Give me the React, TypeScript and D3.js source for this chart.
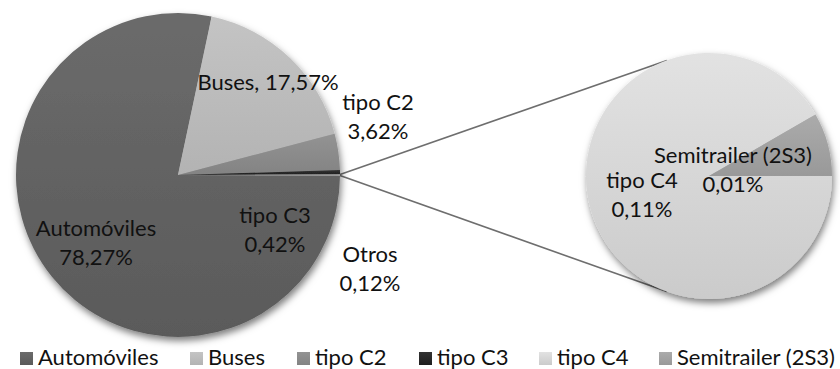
import React from "react";
import * as d3 from "d3";

// Main pie: share of each vehicle class (percent)
const mainNames = ["Automóviles", "Buses", "tipo C2", "tipo C3", "Otros"];
const mainValues = [78.27, 17.57, 3.62, 0.42, 0.12];

// Breakdown of "Otros" in the secondary pie (percent of total)
const subNames = ["tipo C4", "Semitrailer (2S3)"];
const subValues = [0.11, 0.01];

// Legend entries
const legendNames = ["Automóviles", "Buses", "tipo C2", "tipo C3", "tipo C4", "Semitrailer (2S3)"];

const W = 840;
const H = 369;
const FONT = "Lato, 'Open Sans', sans-serif";
const FS = 22;

const fills: Record<string, [string, string]> = {
  "Automóviles": ["#6b6b6b", "#5a5a5a"],
  "Buses": ["#c4c4c4", "#b3b3b3"],
  "tipo C2": ["#939393", "#838383"],
  "tipo C3": ["#333333", "#1e1e1e"],
  "Otros": ["#b4b4b4", "#a8a8a8"],
  "tipo C4": ["#e2e2e2", "#cbcbcb"],
  "Semitrailer (2S3)": ["#ababab", "#999999"],
};

const gradId = (n: string) => "g" + n.replace(/[^a-zA-Z0-9]/g, "");

const fmt = (v: number) => d3.format(".2f")(v).replace(".", ",") + "%";

// label anchors (center x, first baseline y)
const labelPos: Record<string, { x: number; y: number; inline?: boolean }> = {
  "Automóviles": { x: 96, y: 236 },
  "Buses": { x: 268, y: 90, inline: true },
  "tipo C2": { x: 378, y: 110 },
  "tipo C3": { x: 275, y: 223 },
  "Otros": { x: 370, y: 262 },
  "tipo C4": { x: 642, y: 188 },
  "Semitrailer (2S3)": { x: 733, y: 163 },
};
const lineGap = 29;

export default function App() {
  const main = { cx: 178, cy: 175, r: 162 };
  const sub = { cx: 709, cy: 176, r: 123 };

  const total = d3.sum(mainValues);
  const otrosHalf = (mainValues[mainValues.length - 1] / total) * Math.PI;
  const mainStart = Math.PI / 2 + otrosHalf;
  const mainArcs = d3
    .pie<number>()
    .sort(null)
    .startAngle(mainStart)
    .endAngle(mainStart + 2 * Math.PI)(mainValues);

  const subArcs = d3
    .pie<number>()
    .sort(null)
    .startAngle(Math.PI / 2)
    .endAngle(Math.PI / 2 + 2 * Math.PI)(subValues);

  const mainArc = d3.arc<d3.PieArcDatum<number>>().innerRadius(0).outerRadius(main.r);
  const subArc = d3.arc<d3.PieArcDatum<number>>().innerRadius(0).outerRadius(sub.r);

  // connector lines from the "Otros" slice edges to the secondary pie
  const otros = mainArcs[mainArcs.length - 1];
  const pt = (c: { cx: number; cy: number; r: number }, a: number) => [
    c.cx + c.r * Math.sin(a),
    c.cy - c.r * Math.cos(a),
  ];
  const tA = (20 * Math.PI) / 180;
  const p1 = pt(main, otros.startAngle);
  const p2 = pt(main, otros.endAngle);
  const q1 = pt(sub, -tA);
  const q2 = pt(sub, Math.PI + tA);

  const renderLabel = (name: string, value: number) => {
    const p = labelPos[name];
    if (!p) return null;
    if (p.inline)
      return (
        <text key={name} x={p.x} y={p.y} textAnchor="middle">
          {name + ", " + fmt(value)}
        </text>
      );
    return (
      <text key={name} textAnchor="middle">
        <tspan x={p.x} y={p.y}>{name}</tspan>
        <tspan x={p.x} y={p.y + lineGap}>{fmt(value)}</tspan>
      </text>
    );
  };

  const legendX = [38, 208, 315, 437, 557, 677];

  return (
    <svg
      width={W}
      height={H}
      style={{ position: "absolute", left: 0, top: 0, background: "#fff" }}
      fontFamily={FONT}
      fontSize={FS}
    >
      <defs>
        {Object.entries(fills).map(([n, [a, b]]) => (
          <linearGradient key={n} id={gradId(n)} x1="0" y1="0" x2="0" y2="1">
            <stop offset="0" stopColor={a} />
            <stop offset="1" stopColor={b} />
          </linearGradient>
        ))}
        <filter id="shadow" x="-20%" y="-20%" width="140%" height="140%">
          <feDropShadow dx="1.5" dy="4" stdDeviation="3.5" floodColor="#000" floodOpacity="0.5" />
        </filter>
      </defs>

      {/* connectors */}
      <g stroke="#6e6e6e" strokeWidth={1.6}>
        <line x1={p1[0]} y1={p1[1]} x2={q1[0]} y2={q1[1]} />
        <line x1={p2[0]} y1={p2[1]} x2={q2[0]} y2={q2[1]} />
      </g>

      {/* main pie */}
      <g transform={`translate(${main.cx},${main.cy})`} filter="url(#shadow)">
        {mainArcs.map((a, i) => (
          <path key={mainNames[i]} d={mainArc(a) || ""} fill={`url(#${gradId(mainNames[i])})`} />
        ))}
      </g>

      {/* secondary pie */}
      <g transform={`translate(${sub.cx},${sub.cy})`} filter="url(#shadow)">
        {subArcs.map((a, i) => (
          <path key={subNames[i]} d={subArc(a) || ""} fill={`url(#${gradId(subNames[i])})`} />
        ))}
      </g>

      {/* data labels */}
      <g fill="#111">
        {mainNames.map((n, i) => renderLabel(n, mainValues[i]))}
        {subNames.map((n, i) => renderLabel(n, subValues[i]))}
      </g>

      {/* legend */}
      <g fill="#111">
        {legendNames.map((n, i) => (
          <g key={n}>
            <rect x={legendX[i] - 18} y={352} width={13} height={13} fill={`url(#${gradId(n)})`} />
            <text x={legendX[i]} y={365}>{n}</text>
          </g>
        ))}
      </g>
    </svg>
  );
}
